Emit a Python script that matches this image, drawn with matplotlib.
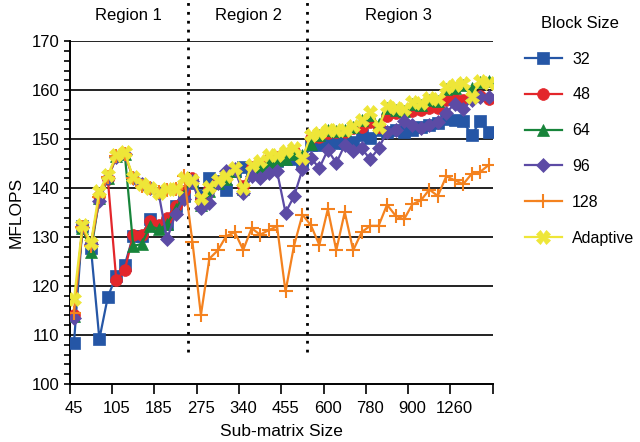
import numpy as np
import matplotlib
matplotlib.use("Agg")
import matplotlib.pyplot as plt

plt.rcParams['font.family'] = ['Liberation Sans', 'DejaVu Sans']

# sub-matrix sizes: 50 categories, labelled every 5th one
tick_labels = ["45", "105", "185", "275", "340", "455", "600", "780", "900", "1260"]
n_points = 50

block_32 = [108.4, 132.3, 127.8, 109.2, 117.8, 122.1, 124.3, 130.3, 130.3, 133.7, 132.3, 132.7, 136.4, 138.4,
            141.0, 138.5, 142.1, 141.5, 139.7, 143.5, 144.4, 143.5, 143.0, 145.0, 145.5, 146.0, 146.0, 145.1,
            148.8, 148.8, 149.2, 149.2, 149.2, 149.5, 150.8, 150.2, 151.9, 151.5, 151.9, 151.5, 151.9, 152.4,
            152.9, 153.2, 154.2, 153.9, 153.6, 150.8, 153.6, 151.5]
block_48 = [114.0, 132.0, 128.5, 138.4, 141.8, 121.2, 123.3, 130.4, 130.5, 133.3, 132.4, 134.0, 136.4, 139.5,
            142.0, 137.5, 139.8, 141.3, 142.0, 143.7, 140.5, 144.3, 145.0, 146.0, 146.3, 147.0, 147.5, 146.3,
            150.3, 150.5, 151.3, 151.4, 151.5, 152.3, 152.5, 153.5, 152.5, 154.8, 155.3, 155.5, 155.8, 156.0,
            156.3, 156.3, 157.9, 158.2, 158.0, 158.7, 158.8, 158.2]
block_64 = [113.8, 131.8, 127.0, 138.0, 142.0, 146.5, 147.0, 128.2, 128.6, 132.3, 131.6, 132.6, 135.7, 138.5,
            141.5, 136.5, 139.5, 141.0, 141.8, 143.5, 139.8, 144.0, 144.5, 145.3, 145.8, 146.0, 147.0, 146.8,
            149.0, 150.8, 151.8, 151.6, 151.8, 152.5, 154.0, 155.0, 153.0, 156.3, 156.0, 155.8, 157.2, 157.0,
            158.0, 157.8, 160.3, 160.5, 161.0, 160.5, 161.6, 161.8]
block_96 = [113.4, 132.0, 128.5, 137.4, 142.0, 146.3, 147.0, 142.0, 140.8, 140.0, 139.0, 129.6, 134.7, 137.8,
            141.5, 136.0, 137.0, 141.0, 143.4, 143.8, 139.0, 142.4, 142.1, 143.0, 143.4, 135.0, 138.3, 143.8,
            146.1, 144.1, 147.8, 145.1, 148.8, 147.5, 148.1, 145.9, 148.1, 151.5, 151.9, 153.6, 152.9, 152.2,
            152.9, 153.4, 155.4, 157.2, 156.1, 158.0, 158.5, 158.5]
block_128 = [114.6, 132.0, 128.2, 138.2, 142.2, 146.5, 147.0, 142.0, 140.5, 140.0, 139.2, 139.6, 139.8, 142.5,
             129.0, 114.1, 125.6, 127.3, 130.2, 131.0, 127.4, 131.8, 130.5, 131.4, 132.2, 118.9, 128.2, 134.6,
             132.4, 128.4, 135.7, 127.3, 135.1, 127.3, 131.0, 132.3, 132.3, 136.6, 134.4, 133.6, 136.7, 137.5,
             139.7, 138.4, 142.4, 141.6, 140.8, 142.9, 143.3, 144.7]
adaptive = [117.3, 132.4, 128.8, 139.5, 142.7, 146.7, 147.3, 142.2, 140.8, 140.1, 139.1, 139.8, 139.8, 142.1,
            141.7, 138.0, 140.2, 141.7, 142.4, 144.1, 140.0, 144.8, 145.5, 146.8, 146.8, 147.5, 148.2, 146.1,
            150.9, 151.2, 151.9, 151.9, 151.9, 152.7, 153.8, 155.6, 152.5, 156.7, 156.3, 156.1, 157.6, 157.4,
            158.3, 158.1, 160.7, 161.0, 161.4, 158.6, 161.9, 161.4]

region_names = ["Region 1", "Region 2", "Region 3"]
region_bounds = [13.5, 27.5]

fig = plt.figure(figsize=(6.4, 4.42), dpi=100)
ax = fig.add_axes([0.109, 0.131, 0.661, 0.776])

x = np.arange(n_points)
series = [
    (block_32, "32", "#2556A6", "s", 8.5),
    (block_48, "48", "#E3262B", "o", 8.5),
    (block_64, "64", "#17843A", "^", 8.5),
    (block_96, "96", "#5C4BA5", "D", 7),
    (block_128, "128", "#F4821F", "+", 10),
    (adaptive, "Adaptive", "#EEE638", "X", 9.5),
]
for vals, lab, col, mk, ms in series:
    ax.plot(x, vals, color=col, marker=mk, markersize=ms, linewidth=1.6,
            markeredgewidth=1.5 if mk == "+" else 0.5, label=lab, zorder=3)

ax.set_xlim(-0.5, n_points - 0.5)
ax.set_ylim(100, 170)

# horizontal grid
for yv in range(110, 171, 10):
    ax.axhline(yv, color="#222222", linewidth=1.4, zorder=1)

# region separators and names
for xb in region_bounds:
    ax.axvline(xb, ymin=0.093, ymax=1.12, color="black", linestyle=(0, (1, 2.2)),
               linewidth=2, clip_on=False, zorder=2)
for xt, name in zip([6.4, 20.6, 38.3], region_names):
    ax.text(xt, 1.076, name, transform=ax.get_xaxis_transform(), ha="center", va="center", fontsize=12)

ax.spines["top"].set_visible(False)
ax.spines["right"].set_visible(False)
ax.spines["left"].set_linewidth(1.4)
ax.spines["bottom"].set_linewidth(1.4)

ax.set_xticks(np.arange(-0.5, n_points, 5))
ax.set_xticklabels([])
ax.set_xticks(np.arange(0, n_points, 5), minor=True)
ax.set_xticklabels(tick_labels, minor=True, fontsize=12)
ax.tick_params(axis="x", which="major", direction="out", length=7, width=1.2)
ax.tick_params(axis="x", which="minor", length=0, pad=12)

ax.set_yticks(np.arange(100, 171, 10))
ax.set_yticks(np.arange(100, 171, 2), minor=True)
ax.tick_params(axis="y", which="both", direction="out", length=4, width=1.2, labelsize=12)

ax.set_xlabel("Sub-matrix Size", fontsize=12.5, labelpad=6)
ax.set_ylabel("MFLOPS", fontsize=12.5, labelpad=6)

leg = ax.legend(loc="upper left", bbox_to_anchor=(0.808, 0.982), bbox_transform=fig.transFigure,
                frameon=False, fontsize=11.5, title="Block Size", title_fontsize=12, borderpad=0,
                labelspacing=1.3, handlelength=2.3, handletextpad=0.65)

fig.savefig("out.png", dpi=100)
